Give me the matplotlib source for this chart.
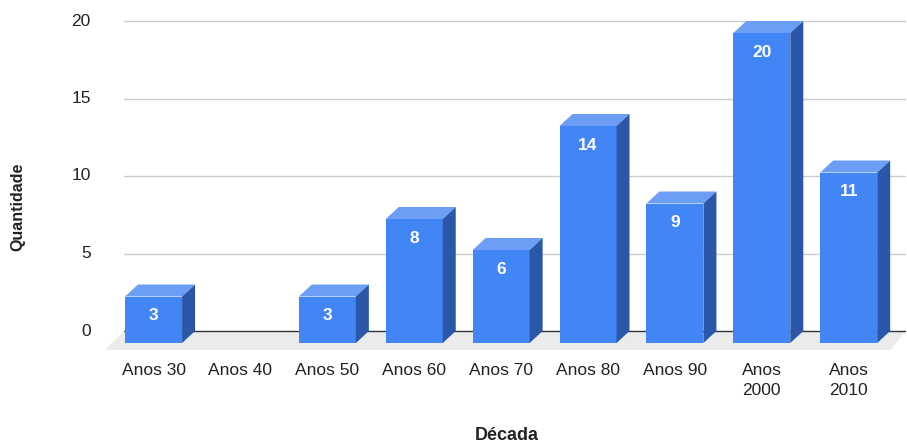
import numpy as np
import matplotlib
matplotlib.use("Agg")
import matplotlib.pyplot as plt
from matplotlib.patches import Polygon

# data
decadas = ["Anos 30", "Anos 40", "Anos 50", "Anos 60", "Anos 70",
           "Anos 80", "Anos 90", "Anos\n2000", "Anos\n2010"]
quantidade = [3, 0, 3, 8, 6, 14, 9, 20, 11]
yticks = [0, 5, 10, 15, 20]

plt.rcParams['font.family'] = ['Liberation Sans', 'DejaVu Sans']

W, H = 907, 443
fig = plt.figure(figsize=(W / 100, H / 100), dpi=100)

# back plane: x from 124px to 906px, y=0 at 331px, y=20 at 21px
ppu_y = (331 - 21) / 20.0
ylo, yhi = -2.0, 21.0
ax_bottom = 331 + (0 - ylo) * ppu_y
ax_top = 331 - yhi * ppu_y
ax = fig.add_axes([124 / W, 1 - ax_bottom / H, (906 - 124) / W, (ax_bottom - ax_top) / H])
ax.set_xlim(-0.49, 8.51)
ax.set_ylim(ylo, yhi)
ppu_x = (906 - 124) / 9.0

# 3d depth offsets (front face relative to back plane), in data units
dx = -13 / ppu_x
dy = -12 / ppu_y
w = 57 / ppu_x

front_c = "#4285f4"
top_c = "#6c9ef6"
side_c = "#2b57a8"

for s in ax.spines.values():
    s.set_visible(False)

# grid
for t in yticks[1:]:
    ax.axhline(t, color="#cccccc", lw=1, zorder=0.5)

# floor
fdx, fdy = -19 / ppu_x, -19 / ppu_y
x0, x1 = ax.get_xlim()
floor = Polygon([(x0, 0), (x1, 0), (x1 + fdx * 0.8, fdy), (x0 + fdx, fdy)],
                closed=True, fc="#ebebeb", ec="none", zorder=1, clip_on=False)
ax.add_patch(floor)
ax.axhline(0, color="#333333", lw=1, zorder=1.5)

xs = np.arange(len(decadas))
for i, v in zip(xs, quantidade):
    if v <= 0:
        continue
    xf = i + dx
    ax.bar(xf, v, width=w, bottom=dy, color=front_c, zorder=4, clip_on=False)
    top = Polygon([(xf - w / 2, v + dy), (xf + w / 2, v + dy),
                   (i + w / 2, v), (i - w / 2, v)],
                  closed=True, fc=top_c, ec="none", zorder=4, clip_on=False)
    side = Polygon([(xf + w / 2, dy), (i + w / 2, 0), (i + w / 2, v),
                    (xf + w / 2, v + dy)],
                   closed=True, fc=side_c, ec="none", zorder=4, clip_on=False)
    ax.add_patch(top)
    ax.add_patch(side)
    ax.annotate(str(v), (xf, v + dy), xytext=(0, -14), textcoords="offset points",
                ha="center", va="center", color="white", fontsize=12.5,
                fontweight="bold", zorder=5)

ax.set_yticks(yticks)
ax.set_yticklabels([str(t) for t in yticks])
ax.set_xticks(xs + dx)
ax.set_xticklabels(decadas, linespacing=1.4)
ax.tick_params(axis="y", length=0, pad=24, labelsize=12.5, labelcolor="#222222")
ax.tick_params(axis="x", length=0, pad=1, labelsize=12.5, labelcolor="#222222")
for lab in ax.get_yticklabels():
    lab.set_verticalalignment("center")

fig.text(18 / W, 1 - 207 / H, "Quantidade", rotation=90, ha="center", va="center",
         fontsize=11.5, fontweight="bold", color="#222222")
fig.text(507 / W, 1 - 435 / H, "Década", ha="center", va="center",
         fontsize=13, fontweight="bold", color="#222222")

fig.savefig("out.png", dpi=100, facecolor="white")
